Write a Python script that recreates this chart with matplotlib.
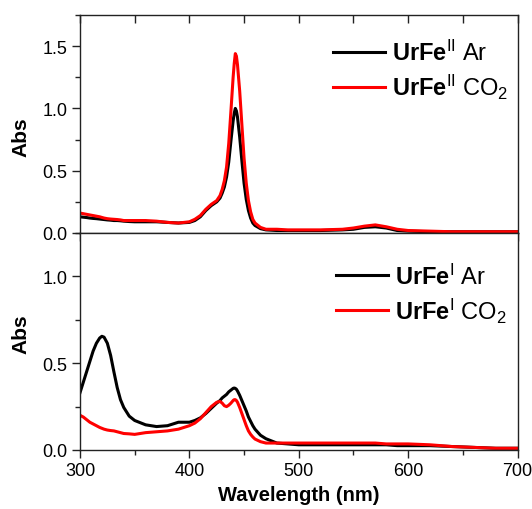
import matplotlib
matplotlib.use("Agg")
import matplotlib.pyplot as plt
from matplotlib.ticker import MultipleLocator, FormatStrFormatter

plt.rcParams["font.family"] = ["Liberation Sans", "DejaVu Sans"]
plt.rcParams["mathtext.fontset"] = "custom"
plt.rcParams["mathtext.rm"] = "Liberation Sans"
plt.rcParams["mathtext.bf"] = "Liberation Sans:bold"
plt.rcParams["mathtext.it"] = "Liberation Sans:italic"

# Wavelength grid (nm)
wavelength = [300, 303, 306, 309, 312, 315, 318, 320, 322, 325, 328, 331, 334, 337, 340,
              345, 350, 360, 370, 380, 390, 400,
              405, 410, 415, 420, 425, 428, 430,
              432, 434, 436, 438, 440, 441, 442, 443, 444,
              446, 448, 450, 452, 454, 456, 458, 460,
              465, 470,
              480, 490, 500, 520, 540, 550, 560, 570, 580, 590, 600, 620, 640, 660, 680, 700]

# UrFe(II) spectra
fe2_ar = [0.13, 0.127, 0.124, 0.12, 0.117, 0.115, 0.112, 0.11, 0.108, 0.105, 0.103, 0.10, 0.10, 0.098, 0.095,
          0.092, 0.09, 0.09, 0.09, 0.085, 0.08, 0.085,
          0.10, 0.13, 0.18, 0.22, 0.25, 0.28, 0.32,
          0.37, 0.45, 0.57, 0.74, 0.90, 0.96, 1.00, 0.98, 0.93,
          0.77, 0.58, 0.40, 0.27, 0.18, 0.12, 0.08, 0.06,
          0.035, 0.025,
          0.02, 0.02, 0.02, 0.02, 0.025, 0.03, 0.045, 0.05, 0.04, 0.02, 0.015, 0.01, 0.01, 0.01, 0.01, 0.01]
fe2_co2 = [0.16, 0.155, 0.15, 0.145, 0.14, 0.135, 0.13, 0.125, 0.12, 0.115, 0.112, 0.11, 0.108, 0.105, 0.10,
           0.10, 0.10, 0.10, 0.095, 0.085, 0.08, 0.09,
           0.11, 0.14, 0.19, 0.23, 0.26, 0.30, 0.35,
           0.42, 0.53, 0.72, 0.98, 1.25, 1.36, 1.44, 1.42, 1.35,
           1.14, 0.87, 0.60, 0.40, 0.26, 0.17, 0.11, 0.08,
           0.045, 0.03,
           0.03, 0.025, 0.025, 0.025, 0.03, 0.04, 0.055, 0.065, 0.05, 0.03, 0.02, 0.015, 0.01, 0.01, 0.01, 0.01]

# UrFe(I) spectra
fe1_ar = [0.33, 0.39, 0.45, 0.51, 0.57, 0.615, 0.645, 0.655, 0.65, 0.615, 0.545, 0.45, 0.36, 0.29, 0.245,
          0.195, 0.17, 0.145, 0.135, 0.14, 0.16, 0.16,
          0.17, 0.185, 0.21, 0.24, 0.27, 0.285, 0.30,
          0.31, 0.32, 0.335, 0.345, 0.355, 0.357, 0.355, 0.35, 0.34,
          0.315, 0.285, 0.255, 0.225, 0.19, 0.165, 0.14, 0.12,
          0.085, 0.065,
          0.04, 0.035, 0.03, 0.03, 0.03, 0.03, 0.03, 0.03, 0.03, 0.025, 0.025, 0.025, 0.02, 0.015, 0.01, 0.01]
fe1_co2 = [0.20, 0.19, 0.175, 0.16, 0.15, 0.14, 0.13, 0.125, 0.12, 0.115, 0.112, 0.11, 0.105, 0.10, 0.095,
           0.093, 0.09, 0.10, 0.105, 0.11, 0.12, 0.14,
           0.155, 0.18, 0.215, 0.25, 0.275, 0.28, 0.27,
           0.255, 0.25, 0.258, 0.27, 0.285, 0.29, 0.29, 0.285, 0.275,
           0.245, 0.21, 0.175, 0.14, 0.11, 0.09, 0.075, 0.063,
           0.048, 0.04,
           0.04, 0.04, 0.04, 0.04, 0.04, 0.04, 0.04, 0.04, 0.035, 0.035, 0.035, 0.03, 0.02, 0.015, 0.01, 0.01]

labels_top = [r"$\mathbf{UrFe}^{\mathrm{II}}$ Ar", r"$\mathbf{UrFe}^{\mathrm{II}}$ CO$_2$"]
labels_bottom = [r"$\mathbf{UrFe}^{\mathrm{I}}$ Ar", r"$\mathbf{UrFe}^{\mathrm{I}}$ CO$_2$"]

W, H = 532, 510
fig = plt.figure(figsize=(W / 100, H / 100), dpi=100)
left, right = 80 / W, 517.5 / W
ax_top = fig.add_axes([left, 1 - 234 / H, right - left, (234 - 16) / H])
ax_bot = fig.add_axes([left, 1 - 451 / H, right - left, (451 - 234) / H])

spine_c = "#222222"
line_w = 2.2
for ax in (ax_top, ax_bot):
    for s in ax.spines.values():
        s.set_color(spine_c)
        s.set_linewidth(1.0)
    ax.set_xlim(300, 700)
    ax.xaxis.set_major_locator(MultipleLocator(100))
    ax.xaxis.set_minor_locator(MultipleLocator(50))
    ax.yaxis.set_major_locator(MultipleLocator(0.5))
    ax.yaxis.set_minor_locator(MultipleLocator(0.25))
    ax.yaxis.set_major_formatter(FormatStrFormatter("%.1f"))
    ax.tick_params(axis="both", which="major", direction="out", length=6, width=1.0,
                   color=spine_c, labelsize=13, pad=3)
    ax.tick_params(axis="both", which="minor", direction="out", length=3.6, width=1.0,
                   color=spine_c)
    ax.tick_params(axis="y", right=False, which="both")

# upper panel
ax_top.plot(wavelength, fe2_ar, color="black", lw=line_w, label=labels_top[0])
ax_top.plot(wavelength, fe2_co2, color="#ff0000", lw=line_w, label=labels_top[1])
ax_top.set_ylim(0, 1.75)
ax_top.tick_params(axis="x", which="both", labelbottom=False)
top_ax = ax_top.secondary_xaxis("top")
top_ax.xaxis.set_major_locator(MultipleLocator(100))
top_ax.xaxis.set_minor_locator(MultipleLocator(50))
top_ax.tick_params(axis="x", which="both", direction="in", length=6, width=1.0,
                   color=spine_c, labeltop=False)
top_ax.spines["top"].set_visible(False)

# lower panel
ax_bot.plot(wavelength, fe1_ar, color="black", lw=line_w, label=labels_bottom[0])
ax_bot.plot(wavelength, fe1_co2, color="#ff0000", lw=line_w, label=labels_bottom[1])
ax_bot.set_ylim(0, 1.25)
ax_bot.tick_params(axis="x", top=False, which="both")

leg_kw = dict(loc="upper left", frameon=False, fontsize=17, handlelength=2.2,
              handletextpad=0.3, labelspacing=0.3, borderpad=0, borderaxespad=0)
ax_top.legend(bbox_to_anchor=(0.578, 0.885), **leg_kw)
ax_bot.legend(bbox_to_anchor=(0.585, 0.86), **leg_kw)

fig.text(21 / W, 1 - 137 / H, "Abs", rotation=90, fontsize=15, fontweight="bold",
         ha="center", va="center")
fig.text(21 / W, 1 - 334 / H, "Abs", rotation=90, fontsize=15, fontweight="bold",
         ha="center", va="center")
fig.text(298.7 / W, 1 - 496 / H, "Wavelength (nm)", fontsize=14.5, fontweight="bold",
         ha="center", va="center")

fig.savefig("out.png", dpi=100)
